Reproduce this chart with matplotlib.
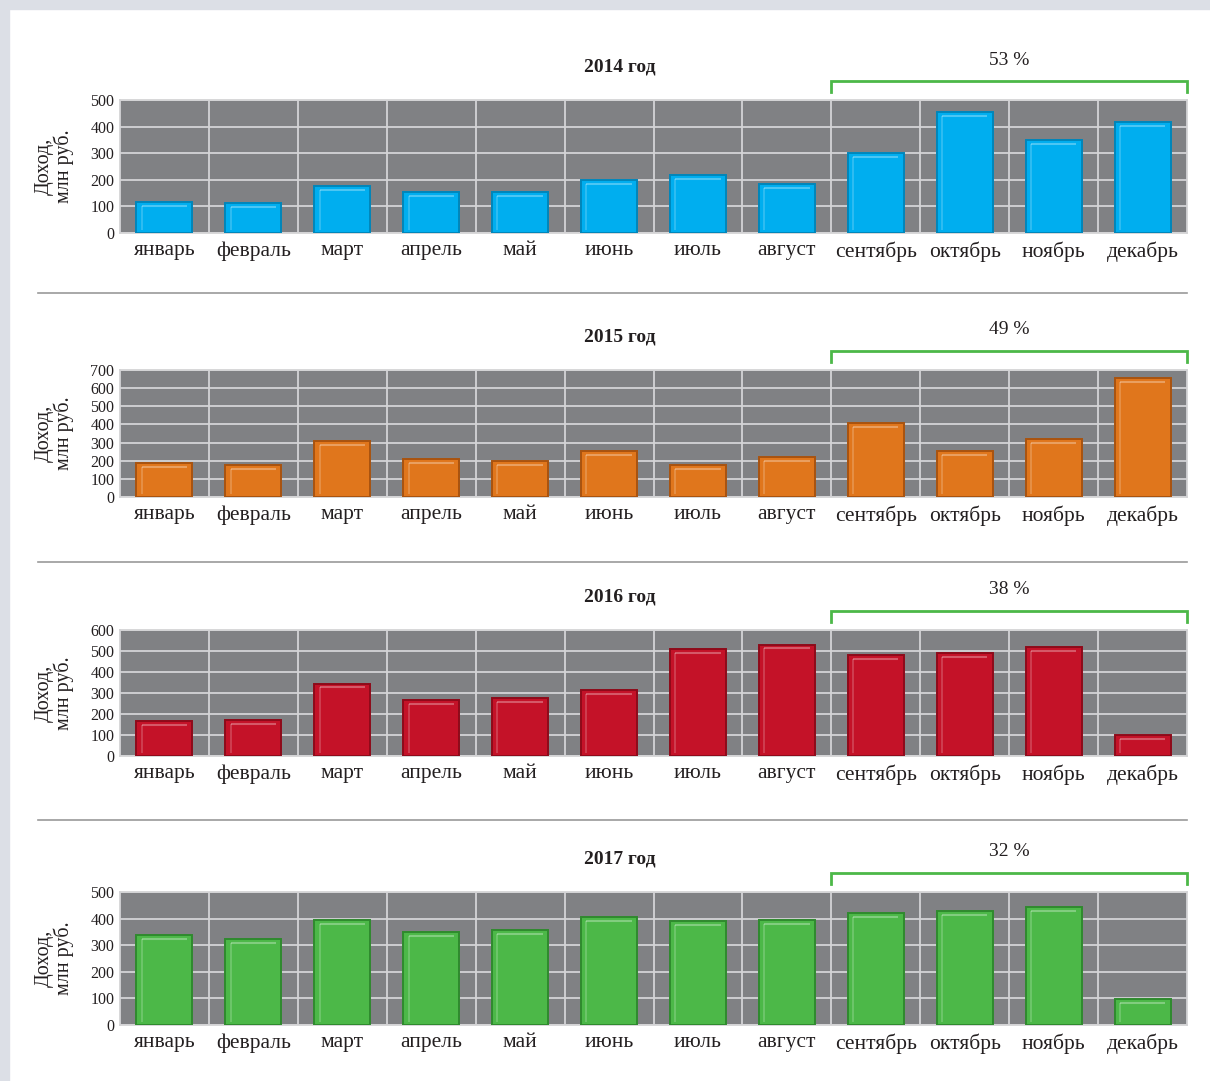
import matplotlib
matplotlib.use("Agg")
import matplotlib.pyplot as plt
import matplotlib.patches as mpatches
from matplotlib.lines import Line2D
from matplotlib.transforms import blended_transform_factory

months = ["январь", "февраль", "март", "апрель", "май", "июнь",
          "июль", "август", "сентябрь", "октябрь", "ноябрь", "декабрь"]

years = ["2014 год", "2015 год", "2016 год", "2017 год"]
shares = ["53 %", "49 %", "38 %", "32 %"]

income_2014 = [116, 112, 177, 154, 154, 199, 218, 184, 300, 455, 350, 417]
income_2015 = [185, 175, 310, 210, 200, 255, 177, 221, 409, 254, 320, 657]
income_2016 = [165, 170, 345, 265, 275, 315, 510, 530, 480, 490, 520, 100]
income_2017 = [338, 325, 395, 350, 357, 405, 391, 395, 422, 430, 443, 98]

series = [income_2014, income_2015, income_2016, income_2017]
ymax = [500, 700, 600, 500]

bar_colors  = ["#00aeef", "#e0761c", "#c41228", "#4cb848"]
edge_colors = ["#0086ba", "#a9530f", "#8e0a1a", "#2f8a2e"]

W, H = 1210, 1081
fig = plt.figure(figsize=(W / 100, H / 100), dpi=100)
fig.patch.set_facecolor("white")
plt.rcParams["font.family"] = ["Liberation Serif", "DejaVu Serif"]

# light frame strips at left / top
fig.add_artist(mpatches.Rectangle((0, 0), 9 / W, 1, transform=fig.transFigure,
                                  color="#dcdfe6", zorder=0))
fig.add_artist(mpatches.Rectangle((0, 1 - 9 / H), 1, 9 / H, transform=fig.transFigure,
                                  color="#dcdfe6", zorder=0))

# axes boxes in pixels: (top, bottom)
boxes = [(100, 233), (370, 497), (630, 756), (892, 1025)]
left_px, right_px = 120, 1187

for i, (top, bot) in enumerate(boxes):
    ax = fig.add_axes([left_px / W, 1 - bot / H, (right_px - left_px) / W, (bot - top) / H])
    ax.set_facecolor("#808184")
    vals = series[i]
    x = list(range(len(months)))
    bw = 0.63
    ax.bar(x, vals, width=bw, color=bar_colors[i], edgecolor=edge_colors[i],
           linewidth=1.4, zorder=3)
    # glossy highlight
    hl = ymax[i] * 0.03
    ax.hlines([v - hl for v in vals], [xi - bw / 2 + 0.06 for xi in x],
              [xi + bw / 2 - 0.06 for xi in x], color="white", alpha=0.3,
              linewidth=1.5, zorder=4)
    ax.vlines([xi - bw / 2 + 0.06 for xi in x], [ymax[i] * 0.02] * len(x),
              [v - hl for v in vals], color="white", alpha=0.22,
              linewidth=1.2, zorder=4)

    ax.set_xlim(-0.5, 11.5)
    ax.set_ylim(0, ymax[i])
    ax.set_yticks(range(0, ymax[i] + 1, 100))
    ax.set_xticks(x)
    ax.set_xticklabels(months, fontsize=15.5, color="#231f20")
    ax.tick_params(axis="both", length=0, pad=6)
    ax.tick_params(axis="y", labelsize=11.5, pad=4, colors="#231f20")
    ax.grid(axis="y", color="#d4d4d6", linewidth=1.3, zorder=1)
    for b in [xi + 0.5 for xi in x[:-1]]:
        ax.axvline(b, color="#d4d4d6", linewidth=1.3, zorder=1)
    for s in ax.spines.values():
        s.set_color("#d4d4d6")
        s.set_linewidth(1.3)

    ax.set_ylabel("Доход,\nмлн руб.", fontsize=14.5, color="#231f20",
                  labelpad=12, linespacing=1.0)

    # title
    hpx = bot - top
    fig.text(620 / W, 1 - (top - 33) / H, years[i], ha="center", va="center",
             fontsize=14, fontweight="bold", color="#231f20")

    # bracket over last quarter
    tr = blended_transform_factory(ax.transData, ax.transAxes)
    y_top = 1 + 19 / hpx
    y_low = 1 + 8 / hpx
    ax.plot([7.5, 7.5, 11.5, 11.5], [y_low, y_top, y_top, y_low], transform=tr,
            color="#4cb848", linewidth=2, clip_on=False, solid_joinstyle="miter")
    ax.text(9.5, 1 + 40 / hpx, shares[i], transform=tr, ha="center", va="center",
            fontsize=14, color="#231f20")

# separators
for y in [293, 562, 820]:
    fig.add_artist(Line2D([38 / W, 1187 / W], [1 - y / H, 1 - y / H],
                          transform=fig.transFigure, color="#9a9a9a", linewidth=1.2))

fig.savefig("out.png", dpi=100, facecolor=fig.get_facecolor())
